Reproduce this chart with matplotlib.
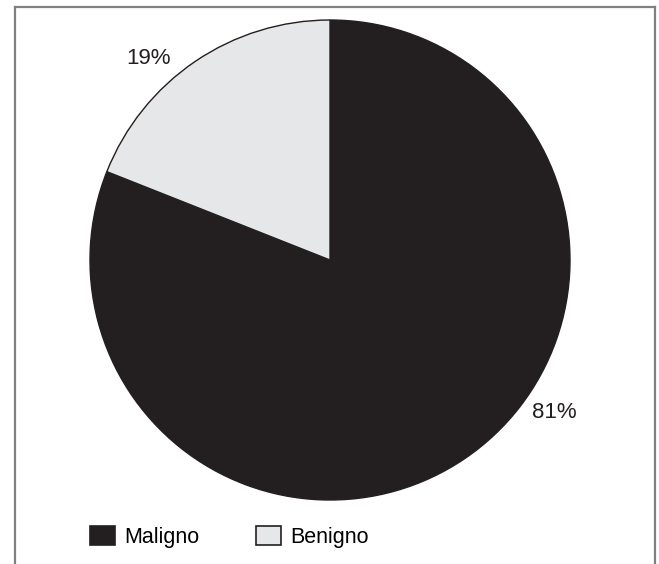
"""Pie chart: Maligno vs Benigno share."""

import matplotlib.pyplot as plt
import numpy as np
from matplotlib.lines import Line2D
from matplotlib.patches import Patch

plt.rcParams["font.family"] = ["Liberation Sans", "DejaVu Sans"]

categories = ["Maligno", "Benigno"]
shares = [81, 19]
pct_labels = ["81%", "19%"]
colors = ["#231f20", "#e6e7e8"]
edge = "#231f20"

W, H = 659, 564
fig = plt.figure(figsize=(W / 100, H / 100), dpi=100)
ax = fig.add_axes([0, 0, 1, 1])
ax.set_xlim(0, W)
ax.set_ylim(0, H)

center = (330, H - 260)
radius = 240
ax.pie(shares, colors=colors, startangle=90, counterclock=False,
       center=center, radius=radius, frame=True,
       wedgeprops=dict(edgecolor=edge, linewidth=1.0))
ax.set_xlim(0, W)
ax.set_ylim(0, H)
ax.set_aspect("auto")
ax.axis("off")

# percent labels sit just outside the rim
label_angles = [-34.3, 132.0]
label_dist = 1.13
for txt, ang in zip(pct_labels, label_angles):
    a = np.deg2rad(ang)
    ax.text(center[0] + label_dist * radius * np.cos(a),
            center[1] + label_dist * radius * np.sin(a),
            txt, ha="center", va="center", fontsize=16, color="#231f20")

# grey outer frame (open at the bottom)
frame_kw = dict(color="#808080", linewidth=1.6, transform=fig.transFigure)
x0, x1, y_top = 15 / W, 655 / W, 1 - 7 / H
fig.add_artist(Line2D([x0, x0], [0, y_top], **frame_kw))
fig.add_artist(Line2D([x0, x1], [y_top, y_top], **frame_kw))
fig.add_artist(Line2D([x1, x1], [0, y_top], **frame_kw))

handles = [Patch(facecolor=c, edgecolor=edge, linewidth=1.2, label=n)
           for c, n in zip(colors, categories)]
fig.legend(handles=handles, ncol=2, frameon=False, fontsize=15.5,
           loc="center left", bbox_to_anchor=(90 / W, 1 - 537 / H),
           borderpad=0, borderaxespad=0, handlelength=1.15,
           handleheight=0.93, handletextpad=0.42, columnspacing=2.65)

fig.savefig("out.png", dpi=100)
